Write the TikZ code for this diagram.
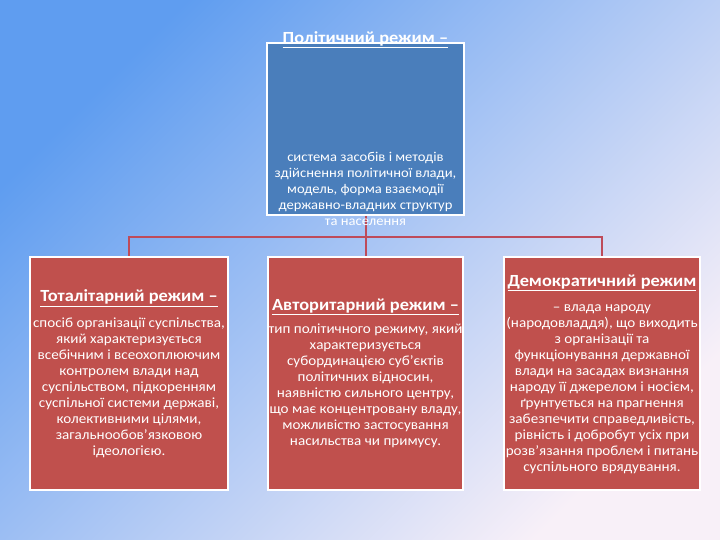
\documentclass[tikz,border=0pt]{standalone}
\usepackage{fontspec}
\setmainfont[FakeStretch=1.08]{Carlito}
\definecolor{bgA}{HTML}{5F9DF0}
\definecolor{bgB}{HTML}{A9CCF5}
\definecolor{bgC}{HTML}{F8F0F8}
\definecolor{boxblue}{HTML}{4A7EBB}
\definecolor{boxred}{HTML}{C0504D}
\definecolor{linkred}{HTML}{BE4B5A}
\begin{document}
\begin{tikzpicture}[x=1pt,y=-1pt,
  box/.style={draw=white,line width=2pt,inner sep=0pt,minimum width=#1,minimum height=233pt,fill=boxred},
  topbox/.style={draw=white,line width=2pt,inner sep=0pt,minimum width=197pt,minimum height=172pt,fill=boxblue},
  link/.style={draw=linkred,line width=2pt},
  ttl/.style={text=white,font=\fontsize{17}{20}\selectfont\bfseries,inner sep=0pt},
  body/.style={text=white,font=\fontsize{14}{16}\selectfont,align=center,inner sep=0pt}]
\useasboundingbox (0,0) rectangle (720,540);
\shade[top color=bgA,middle color=bgB,bottom color=bgC,shading angle=45] (0,0) rectangle (720,540);
\node[topbox] (T) at (365.5,129) {};
\node[box=198pt] (L) at (129,373.5) {};
\node[box=195pt] (M) at (365.5,373.5) {};
\node[box=196pt] (R) at (602,373) {};
\coordinate (J) at (365.5,237);
\draw[link] (T.south) -- (J);
\draw[link] (J) -| (L.north);
\draw[link] (J) -| (R.north);
\draw[link] (J) -- (M.north);
\node[ttl] (Tt) at (365.5,40) {\underline{Політичний режим –}};
\node[body,font=\fontsize{13.5}{16}\selectfont] (Tb) at (365.5,189) {система засобів і методів\\здійснення політичної влади,\\модель, форма взаємодії\\державно-владних структур\\та населення};
\node[ttl] (Lt) at (129,298) {\underline{Тоталітарний режим –}};
\node[body] (Lb) at (129,388) {спосіб організації суспільства,\\який характеризується\\всебічним і всеохоплюючим\\контролем влади над\\суспільством, підкоренням\\суспільної системи державі,\\колективними цілями,\\загальнообов’язковою\\ідеологією.};
\node[ttl] (Mt) at (365.5,307) {\underline{Авторитарний режим –}};
\node[body] (Mb) at (365.5,385.5) {тип політичного режиму, який\\характеризується\\субординацією суб’єктів\\політичних відносин,\\наявністю сильного центру,\\що має концентровану владу,\\можливістю застосування\\насильства чи примусу.};
\node[ttl] (Rt) at (602,283) {\underline{Демократичний режим}};
\node[body] (Rb) at (602,389) {– влада народу\\(народовладдя), що виходить\\з організації та\\функціонування державної\\влади на засадах визнання\\народу її джерелом і носієм,\\ґрунтується на прагнення\\забезпечити справедливість,\\рівність і добробут усіх при\\розв’язання проблем і питань\\суспільного врядування.};
\end{tikzpicture}
\end{document}
